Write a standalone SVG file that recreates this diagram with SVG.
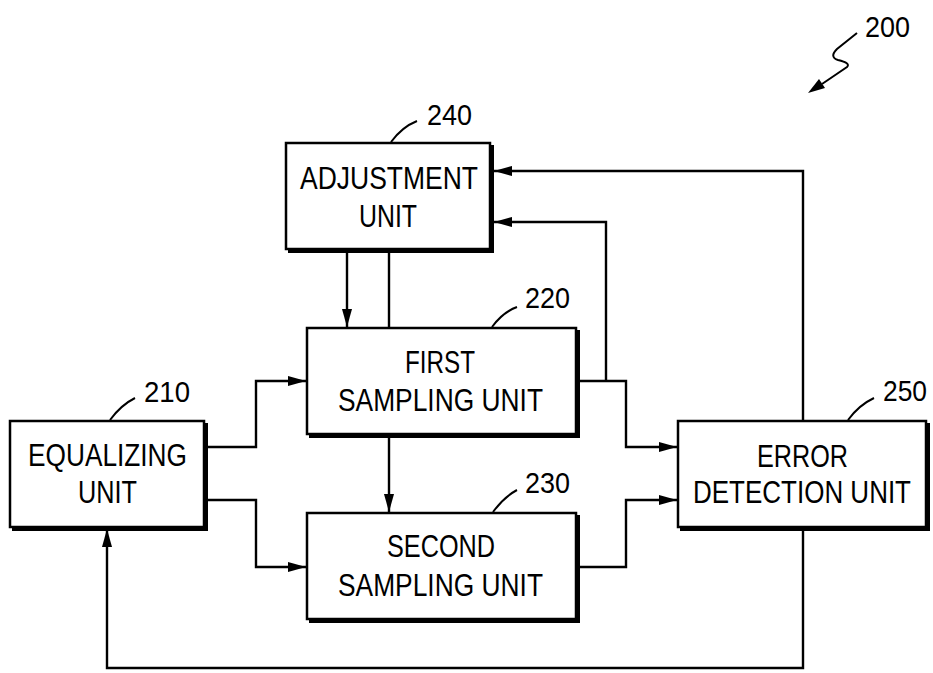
<svg xmlns="http://www.w3.org/2000/svg" width="933" height="673" viewBox="0 0 933 673">
<style>
.box{fill:#fff;stroke:#000;stroke-width:2.5}
.sh{fill:none;stroke:#000;stroke-width:5}
.t{font-family:"Liberation Sans",Arial,sans-serif;font-size:31px;fill:#000;text-anchor:middle}
.n{font-family:"Liberation Sans",Arial,sans-serif;font-size:30px;fill:#000}
.w{fill:none;stroke:#000;stroke-width:2.4}
.ld{fill:none;stroke:#000;stroke-width:2}
</style>
<defs>
<marker id="a" markerUnits="userSpaceOnUse" markerWidth="18" markerHeight="10" refX="18" refY="5" orient="auto">
<path d="M0,0 L18,5 L0,10 z" fill="#000"/>
</marker>
</defs>
<rect width="933" height="673" fill="#fff"/>
<g id="connectors">
<path class="w" d="M347,253 V327" marker-end="url(#a)"/>
<path class="w" d="M389,253 V328"/>
<path class="w" d="M389,435 V512" marker-end="url(#a)"/>
<path class="w" d="M205,447 H256 V381 H306" marker-end="url(#a)"/>
<path class="w" d="M205,500 H256 V567 H306" marker-end="url(#a)"/>
<path class="w" d="M577,381 H626 V447 H677" marker-end="url(#a)"/>
<path class="w" d="M606,381 V222 H494" marker-end="url(#a)"/>
<path class="w" d="M577,567 H626 V500 H677" marker-end="url(#a)"/>
<path class="w" d="M803,421 V171 H494" marker-end="url(#a)"/>
<path class="w" d="M803,528 V668 H107 V529" marker-end="url(#a)"/>
</g>
<g id="n240">
<rect class="box" x="286" y="143" width="204" height="106"/>
<path class="sh" d="M491.5,145 V250.5 H288"/>
<text class="t" x="389" y="189" textLength="178" lengthAdjust="spacingAndGlyphs">ADJUSTMENT</text>
<text class="t" x="388" y="227" textLength="58" lengthAdjust="spacingAndGlyphs">UNIT</text>
<path class="ld" d="M391,142 Q402,127 417,121"/>
<text class="n" x="427" y="125" textLength="45" lengthAdjust="spacingAndGlyphs">240</text>
</g>
<g id="n220">
<rect class="box" x="307" y="328" width="269" height="106"/>
<path class="sh" d="M577.5,330 V435.5 H309"/>
<text class="t" x="440" y="373" textLength="70" lengthAdjust="spacingAndGlyphs">FIRST</text>
<text class="t" x="440.5" y="411" textLength="205" lengthAdjust="spacingAndGlyphs">SAMPLING UNIT</text>
<path class="ld" d="M492,327 Q503,312 517,307"/>
<text class="n" x="525" y="308" textLength="45" lengthAdjust="spacingAndGlyphs">220</text>
</g>
<g id="n230">
<rect class="box" x="307" y="513" width="269" height="106"/>
<path class="sh" d="M577.5,515 V620.5 H309"/>
<text class="t" x="441" y="557" textLength="108" lengthAdjust="spacingAndGlyphs">SECOND</text>
<text class="t" x="440.5" y="596" textLength="205" lengthAdjust="spacingAndGlyphs">SAMPLING UNIT</text>
<path class="ld" d="M493,512 Q504,497 517,490"/>
<text class="n" x="525" y="493" textLength="45" lengthAdjust="spacingAndGlyphs">230</text>
</g>
<g id="n210">
<rect class="box" x="10" y="421" width="194" height="106"/>
<path class="sh" d="M205.5,423 V528.5 H12"/>
<text class="t" x="107.5" y="466" textLength="159" lengthAdjust="spacingAndGlyphs">EQUALIZING</text>
<text class="t" x="107.5" y="503" textLength="59" lengthAdjust="spacingAndGlyphs">UNIT</text>
<path class="ld" d="M110,420 Q121,405 135,398"/>
<text class="n" x="144" y="402" textLength="46" lengthAdjust="spacingAndGlyphs">210</text>
</g>
<g id="n250">
<rect class="box" x="678" y="421" width="248" height="106"/>
<path class="sh" d="M927.5,423 V528.5 H680"/>
<text class="t" x="802.5" y="467" textLength="91" lengthAdjust="spacingAndGlyphs">ERROR</text>
<text class="t" x="802" y="503" textLength="218" lengthAdjust="spacingAndGlyphs">DETECTION UNIT</text>
<path class="ld" d="M848,420 Q859,405 874,398"/>
<text class="n" x="883" y="401" textLength="44" lengthAdjust="spacingAndGlyphs">250</text>
</g>
<g id="n200">
<path class="ld" d="M857,33 L837,49 Q829,57 838,60 Q851,63 847,67 L822,84"/>
<path d="M808,93 L819,79 L825,88 z" fill="#000"/>
<text class="n" x="865" y="37" textLength="45" lengthAdjust="spacingAndGlyphs">200</text>
</g>
</svg>
